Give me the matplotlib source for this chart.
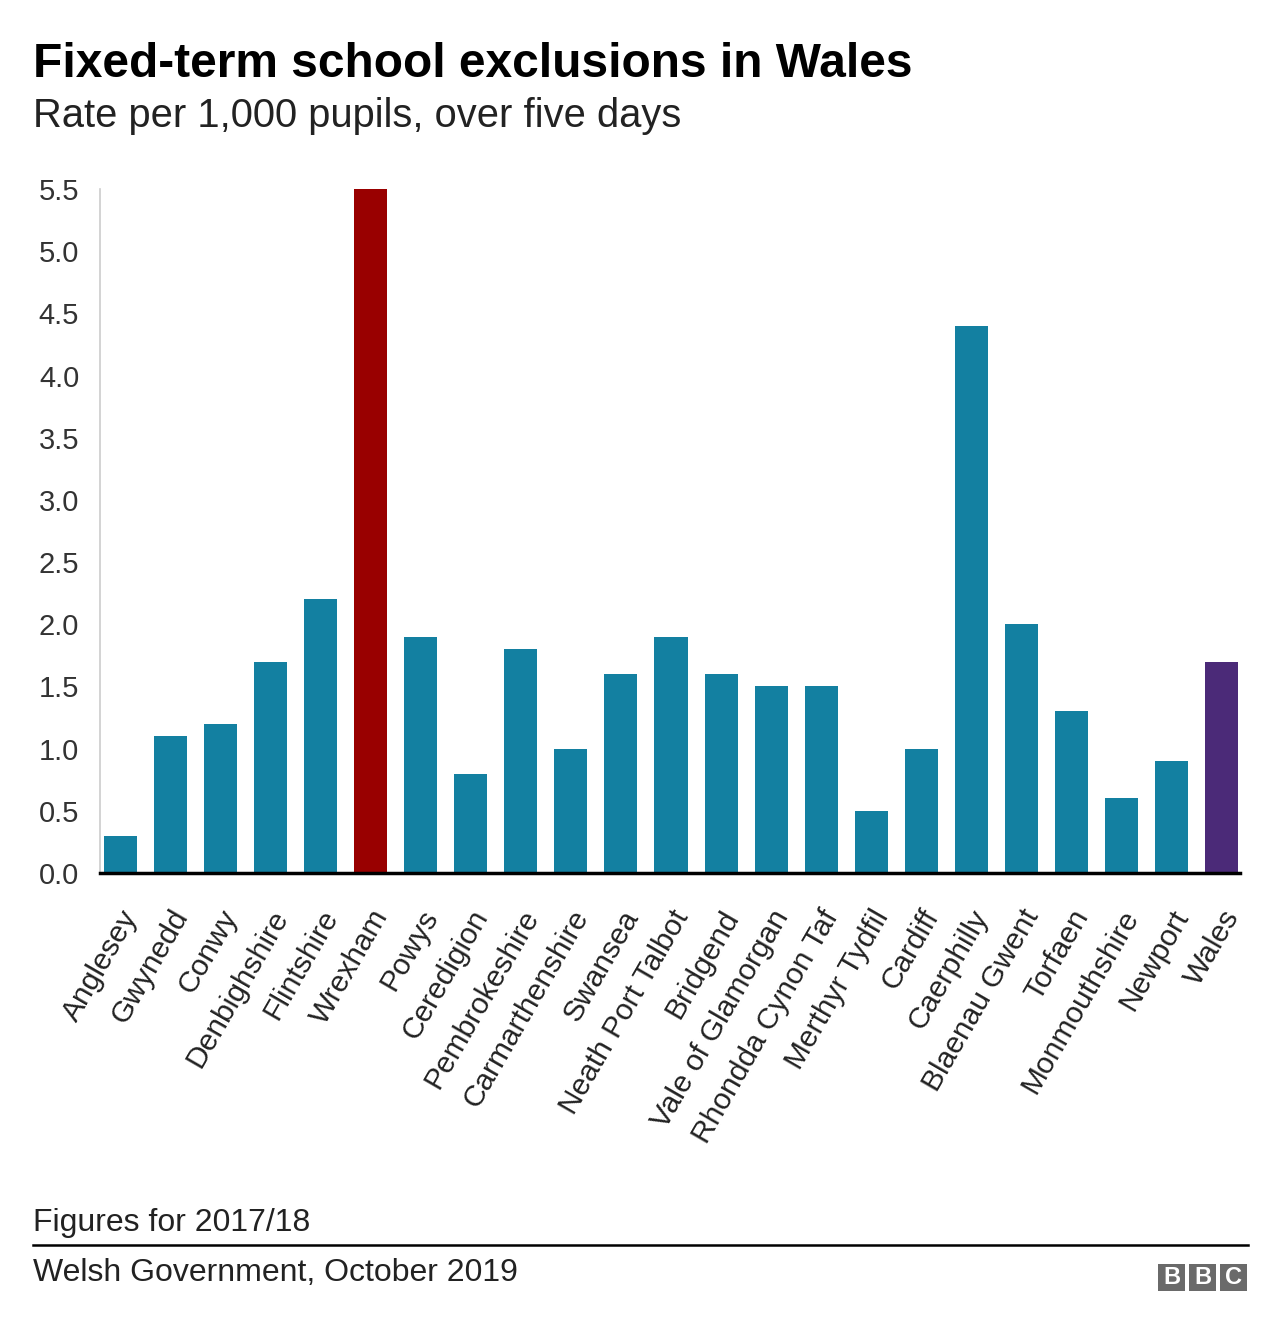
import matplotlib
matplotlib.use("Agg")
import matplotlib.pyplot as plt
from matplotlib.patches import Rectangle
from matplotlib.lines import Line2D
from matplotlib.transforms import ScaledTranslation

plt.rcParams['font.family'] = ['Liberation Sans', 'DejaVu Sans']

areas = ["Anglesey", "Gwynedd", "Conwy", "Denbighshire", "Flintshire", "Wrexham",
         "Powys", "Ceredigion", "Pembrokeshire", "Carmarthenshire", "Swansea",
         "Neath Port Talbot", "Bridgend", "Vale of Glamorgan", "Rhondda Cynon Taf",
         "Merthyr Tydfil", "Cardiff", "Caerphilly", "Blaenau Gwent", "Torfaen",
         "Monmouthshire", "Newport", "Wales"]
rates = [0.3, 1.1, 1.2, 1.7, 2.2, 5.5, 1.9, 0.8, 1.8, 1.0, 1.6, 1.9, 1.6, 1.5,
         1.5, 0.5, 1.0, 4.4, 2.0, 1.3, 0.6, 0.9, 1.7]
yticks = [0.0, 0.5, 1.0, 1.5, 2.0, 2.5, 3.0, 3.5, 4.0, 4.5, 5.0, 5.5]

TEAL = "#1380A1"
RED = "#990000"
PURPLE = "#4B2A78"
colors = []
for a in areas:
    if a == "Wrexham":
        colors.append(RED)
    elif a == "Wales":
        colors.append(PURPLE)
    else:
        colors.append(TEAL)

W, H = 1280, 1332
fig = plt.figure(figsize=(W / 100, H / 100), dpi=100)
ax = fig.add_axes([100 / W, 1 - 873 / H, 1140 / W, (873 - 189) / H])

x = list(range(len(areas)))
ax.bar(x, rates, width=0.66, color=colors, zorder=2)
ax.set_xlim(-0.41, len(areas) - 1 + 0.37)
ax.set_ylim(0, 5.5)
ax.set_yticks(yticks)
ax.set_yticklabels([f"{v:.1f}" for v in yticks], fontsize=21, color="#333333")
ax.set_xticks(x)
ax.set_xticklabels(areas, rotation=60, ha="right", va="center",
                   rotation_mode="anchor", fontsize=21.5, color="#222222")
ax.tick_params(axis="y", length=0, pad=15)
ax.tick_params(axis="x", length=0, pad=28)
offset = ScaledTranslation(11 / 100, 0, fig.dpi_scale_trans)
for lbl in ax.get_xticklabels():
    lbl.set_transform(lbl.get_transform() + offset)
for s in ["top", "right"]:
    ax.spines[s].set_visible(False)
ax.spines["left"].set_color("#cccccc")
ax.spines["left"].set_linewidth(1.2)
ax.spines["bottom"].set_color("#000000")
ax.spines["bottom"].set_linewidth(2.5)
ax.spines["bottom"].set_zorder(3)

fig.text(33 / W, 1 - 77 / H, "Fixed-term school exclusions in Wales",
         fontsize=34.5, fontweight="bold", va="baseline", ha="left", color="#000000")
fig.text(33 / W, 1 - 127 / H, "Rate per 1,000 pupils, over five days",
         fontsize=28.7, va="baseline", ha="left", color="#222222")
fig.text(33 / W, 1 - 1231 / H, "Figures for 2017/18",
         fontsize=23, va="baseline", ha="left", color="#222222")
fig.add_artist(Line2D([33 / W, 1248 / W], [1 - 1245 / H, 1 - 1245 / H],
                      color="#000000", linewidth=1.8, transform=fig.transFigure))
fig.text(33 / W, 1 - 1281 / H, "Welsh Government, October 2019",
         fontsize=23, va="baseline", ha="left", color="#222222")

# BBC logo
bx0, by0, bs, gap = 1158, 1264, 27, 4
for i, letter in enumerate("BBC"):
    left = bx0 + i * (bs + gap)
    fig.add_artist(Rectangle((left / W, 1 - (by0 + bs) / H), bs / W, bs / H,
                             transform=fig.transFigure, facecolor="#6a6a6a",
                             edgecolor="none"))
    fig.text((left + bs / 2) / W, 1 - (by0 + bs / 2) / H, letter,
             fontsize=17, fontweight="bold", color="white",
             ha="center", va="center")

fig.savefig("out.png", dpi=100, facecolor="white")
